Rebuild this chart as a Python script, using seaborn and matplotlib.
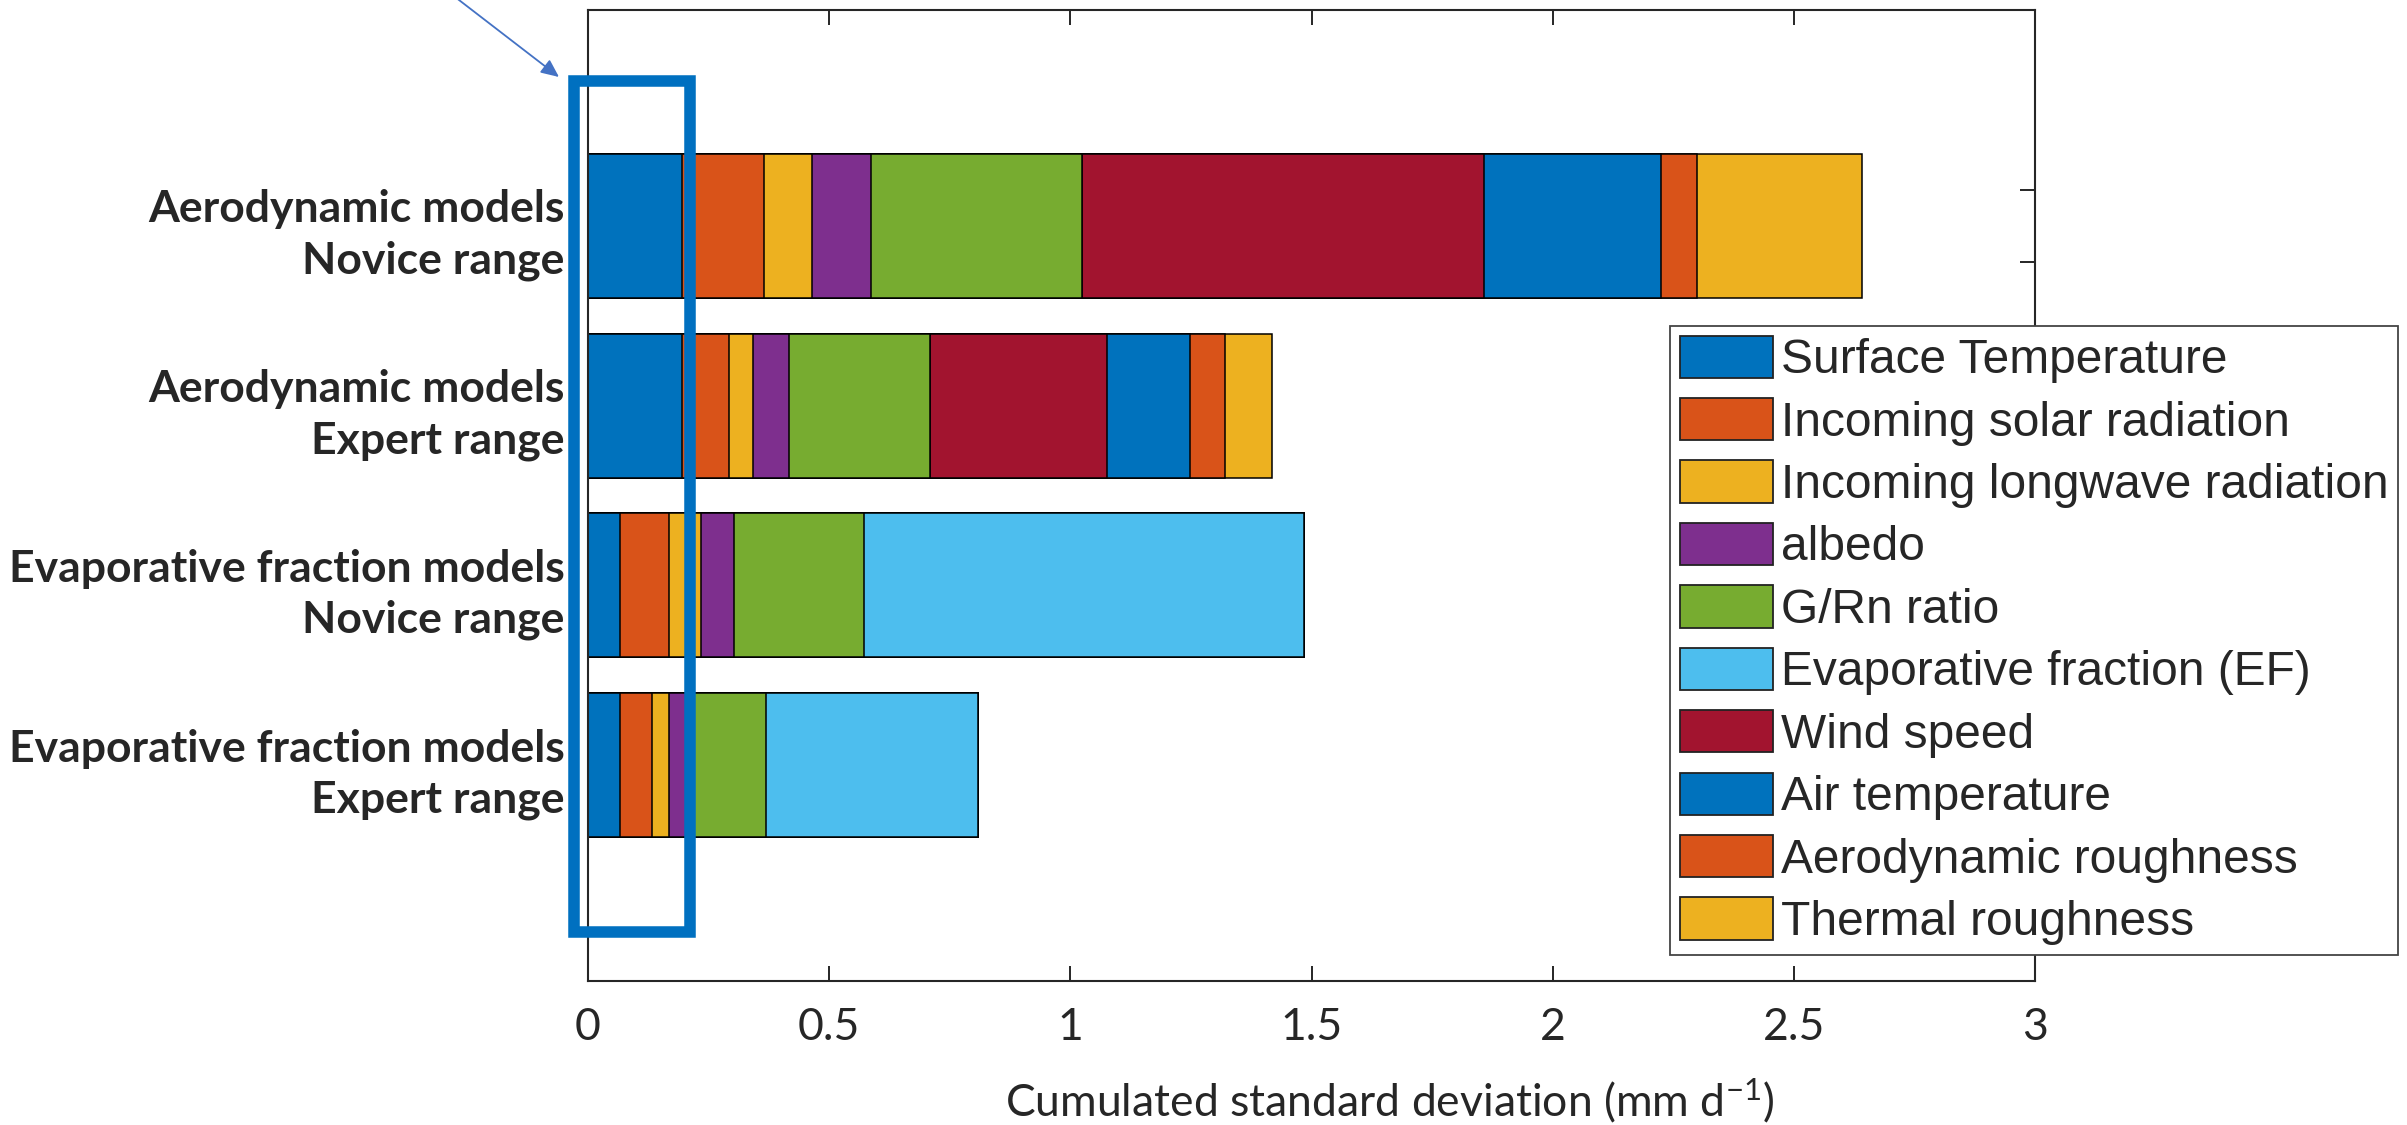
import matplotlib
matplotlib.use("Agg")
import matplotlib.pyplot as plt
from matplotlib.patches import Patch, Rectangle, FancyArrowPatch
import numpy as np
import seaborn as sns

# Model configurations (one horizontal bar each)
categories = [
    "Aerodynamic models\nNovice range",
    "Aerodynamic models\nExpert range",
    "Evaporative fraction models\nNovice range",
    "Evaporative fraction models\nExpert range",
]

# Contribution of each input to the cumulated standard deviation (mm/d)
surface_temperature = [0.194, 0.195, 0.066, 0.066]
incoming_solar = [0.171, 0.098, 0.101, 0.067]
incoming_longwave = [0.099, 0.049, 0.067, 0.034]
albedo = [0.122, 0.074, 0.068, 0.044]
g_rn_ratio = [0.439, 0.293, 0.271, 0.158]
evaporative_fraction = [0.0, 0.0, 0.911, 0.440]
wind_speed = [0.832, 0.368, 0.0, 0.0]
air_temperature = [0.368, 0.171, 0.0, 0.0]
aerodynamic_roughness = [0.074, 0.073, 0.0, 0.0]
thermal_roughness = [0.343, 0.097, 0.0, 0.0]

factor_names = [
    "Surface Temperature", "Incoming solar radiation", "Incoming longwave radiation",
    "albedo", "G/Rn ratio", "Evaporative fraction (EF)", "Wind speed",
    "Air temperature", "Aerodynamic roughness", "Thermal roughness",
]
factor_values = [
    surface_temperature, incoming_solar, incoming_longwave, albedo, g_rn_ratio,
    evaporative_fraction, wind_speed, air_temperature, aerodynamic_roughness,
    thermal_roughness,
]
factor_colors = [
    "#0072BD", "#D95319", "#EDB120", "#7E2F8E", "#77AC30",
    "#4DBEEE", "#A2142F", "#0072BD", "#D95319", "#EDB120",
]
x_ticks = [0, 0.5, 1, 1.5, 2, 2.5, 3]

sns.set_style("white")
plt.rcParams["mathtext.fontset"] = "custom"
plt.rcParams["mathtext.rm"] = "Lato"
plt.rcParams["mathtext.default"] = "regular"
plt.rcParams["font.family"] = ["Lato", "DejaVu Sans"]

W, H, DPI = 2407, 1125, 100
fig = plt.figure(figsize=(W / DPI, H / DPI), dpi=DPI)
ax_left, ax_right, ax_top, ax_bottom = 588, 2035, 10, 981
ax = fig.add_axes([ax_left / W, 1 - ax_bottom / H,
                   (ax_right - ax_left) / W, (ax_bottom - ax_top) / H])

# Stacked bars: draw cumulative totals from the outermost layer inwards
cumulative = np.cumsum(np.array(factor_values, dtype=float), axis=0)
for i in range(len(factor_names) - 1, -1, -1):
    sns.barplot(x=cumulative[i], y=categories, orient="h", color=factor_colors[i],
                saturation=1, width=0.8, edgecolor="black", linewidth=1.1,
                errorbar=None, ax=ax)

ax.set_xlim(0, 3)
ax.set_ylim(4.2, -1.2)
ax.set_xticks(x_ticks)
ax.set_xticklabels([f"{t:g}" for t in x_ticks], fontsize=32)
ax.set_yticks(range(len(categories)))
ax.set_yticklabels(categories, fontsize=32, fontweight="bold", linespacing=1.33)
minor = [c + d for c in range(len(categories)) for d in (-0.2, 0.2)]
ax.set_yticks(minor, minor=True)

spine_color = "#262626"
for s in ax.spines.values():
    s.set_visible(True)
    s.set_color(spine_color)
    s.set_linewidth(1.5)
ax.tick_params(axis="x", which="major", direction="in", length=10.8, width=1.4,
               color=spine_color, top=True, bottom=True, pad=19)
ax.tick_params(axis="y", which="major", length=0, pad=17)
ax.tick_params(axis="y", which="minor", direction="in", length=10.8, width=1.4,
               color=spine_color, left=True, right=True)

ax.set_ylabel("")
ax.set_xlabel("Cumulated standard deviation (mm d$^{-1}$)", fontsize=32)
ax.xaxis.set_label_coords((1390 - ax_left) / (ax_right - ax_left), -0.098)

# Highlight box around the first bar segments
box = Rectangle((-0.029, -0.807), 0.241, 4.736, fill=False, edgecolor="#0070C0",
                linewidth=8.3, clip_on=False, zorder=10)
ax.add_patch(box)
fig.add_artist(FancyArrowPatch(
    posA=(446 / W, 1 + 10 / H), posB=(559 / W, 1 - 77 / H),
    transform=fig.transFigure, arrowstyle="-|>,head_length=0.4,head_width=0.18",
    mutation_scale=27, color="#4472C4", linewidth=1.3, shrinkA=0, shrinkB=0))

handles = [Patch(facecolor=c, edgecolor="#222222", linewidth=1.3) for c in factor_colors]
leg = fig.legend(handles, factor_names, loc="upper left",
                 bbox_to_anchor=(1670 / W, 1 - 326 / H),
                 bbox_transform=fig.transFigure, borderaxespad=0,
                 prop={"family": ["Liberation Sans", "DejaVu Sans"], "size": 34.5},
                 handlelength=1.95, handleheight=0.98, handletextpad=0.17,
                 labelspacing=0.31, borderpad=0.2, fancybox=False, shadow=False,
                 framealpha=1)
leg.get_frame().set_edgecolor("#444444")
leg.get_frame().set_linewidth(1.3)

fig.savefig("out.png", dpi=DPI)
